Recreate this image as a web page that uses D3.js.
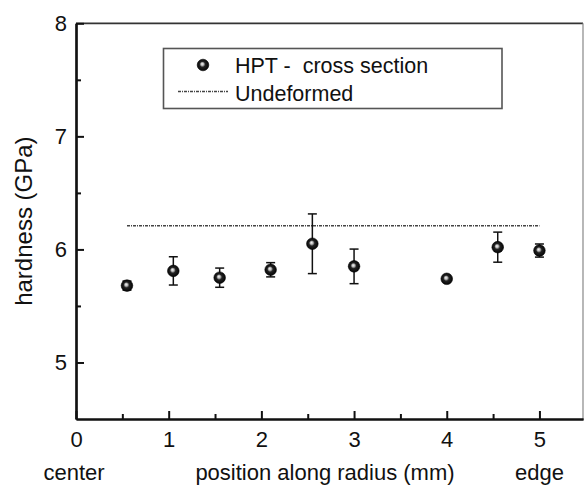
<!DOCTYPE html>
<html>
<head>
<meta charset="utf-8">
<script src="https://cdn.jsdelivr.net/npm/d3@7"></script>
<style>
  html, body { margin: 0; padding: 0; background: #fff; }
  svg { display: block; font-family: "Liberation Sans", Arial, sans-serif; }
</style>
</head>
<body>
<svg id="chart" width="584" height="491"></svg>
<script>
// ---- data ----
const positions = [0.55, 1.05, 1.55, 2.1, 2.55, 3.0, 4.0, 4.55, 5.0];
const hardness  = [5.68, 5.81, 5.75, 5.82, 6.05, 5.85, 5.74, 6.02, 5.99];
const errors    = [0.04, 0.125, 0.085, 0.063, 0.264, 0.153, 0, 0.133, 0.058];
const undeformedValue = 6.21;
const undeformedRange = [0.55, 5.0];
const xTicks = [0, 1, 2, 3, 4, 5];
const xMinorTicks = [0.5, 1.5, 2.5, 3.5, 4.5];
const yTicks = [5, 6, 7, 8];
const yMinorTicks = [5.5, 6.5, 7.5];
const xDomain = [0, 5.47];
const yDomain = [4.5, 8];
const seriesNames = ["HPT -  cross section", "Undeformed"];
const xTitle = "position along radius (mm)";
const yTitle = "hardness (GPa)";
const xLeftNote = "center";
const xRightNote = "edge";

// ---- layout ----
const svg = d3.select("#chart");
const L = 76, R = 583, T = 23.3, B = 419;
const x = d3.scaleLinear().domain(xDomain).range([L, R]);
const y = d3.scaleLinear().domain(yDomain).range([B, T]);

const defs = svg.append("defs");
const grad = defs.append("radialGradient").attr("id", "ball")
  .attr("cx", "50%").attr("cy", "50%").attr("r", "55%")
  .attr("fx", "42%").attr("fy", "40%");
grad.append("stop").attr("offset", "0%").attr("stop-color", "#f4f4f4");
grad.append("stop").attr("offset", "22%").attr("stop-color", "#bbbbbb");
grad.append("stop").attr("offset", "45%").attr("stop-color", "#222");
grad.append("stop").attr("offset", "100%").attr("stop-color", "#000");

// frame (top/right)
svg.append("line").attr("x1", L).attr("x2", R).attr("y1", T).attr("y2", T)
  .attr("stroke", "#333").attr("stroke-width", 1.8);
svg.append("line").attr("x1", R).attr("x2", R).attr("y1", T).attr("y2", B)
  .attr("stroke", "#888").attr("stroke-width", 1.2);

// axes
const fontSize = 22;
const xAxis = svg.append("g").attr("transform", `translate(0,${B})`)
  .call(d3.axisBottom(x).tickValues(xTicks).tickFormat(d3.format("d"))
    .tickSize(-8).tickSizeOuter(0).tickPadding(12));
const xMinor = svg.append("g").attr("transform", `translate(0,${B})`)
  .call(d3.axisBottom(x).tickValues(xMinorTicks).tickFormat("")
    .tickSize(-5).tickSizeOuter(0));
const yAxis = svg.append("g").attr("transform", `translate(${L},0)`)
  .call(d3.axisLeft(y).tickValues(yTicks).tickFormat(d3.format("d"))
    .tickSize(-8).tickSizeOuter(0).tickPadding(9));
const yMinor = svg.append("g").attr("transform", `translate(${L},0)`)
  .call(d3.axisLeft(y).tickValues(yMinorTicks).tickFormat("")
    .tickSize(-5).tickSizeOuter(0));
[xAxis, xMinor, yAxis, yMinor].forEach(g => {
  g.select(".domain").attr("stroke", "#111").attr("stroke-width", 2.2);
  g.selectAll(".tick line").attr("stroke", "#111").attr("stroke-width", 2);
  g.selectAll("text").attr("font-size", fontSize).attr("fill", "#111")
    .attr("font-family", "Liberation Sans, Arial, sans-serif");
});

// axis titles
const yc = (T + B) / 2;
svg.append("text").attr("x", 24).attr("y", yc)
  .attr("transform", `rotate(-90,24,${yc})`)
  .attr("text-anchor", "middle").attr("dominant-baseline", "central")
  .attr("font-size", 24).attr("fill", "#111").text(yTitle);
svg.append("text").attr("x", 325).attr("y", 480)
  .attr("text-anchor", "middle").attr("font-size", fontSize).attr("fill", "#111").text(xTitle);
svg.append("text").attr("x", x(0) - 2).attr("y", 480)
  .attr("text-anchor", "middle").attr("font-size", fontSize).attr("fill", "#111").text(xLeftNote);
svg.append("text").attr("x", x(5)).attr("y", 480)
  .attr("text-anchor", "middle").attr("font-size", fontSize).attr("fill", "#111").text(xRightNote);

// undeformed line
svg.append("line")
  .attr("x1", x(undeformedRange[0])).attr("x2", x(undeformedRange[1]))
  .attr("y1", y(undeformedValue)).attr("y2", y(undeformedValue))
  .attr("stroke", "#444").attr("stroke-width", 1.5).attr("stroke-dasharray", "3,1,1,1");

// data
const data = positions.map((p, i) => ({ p, h: hardness[i], e: errors[i] }));
const eb = svg.append("g");
data.filter(d => d.e > 0).forEach(d => {
  const cx = x(d.p), y1 = y(d.h + d.e), y2 = y(d.h - d.e);
  eb.append("line").attr("x1", cx).attr("x2", cx).attr("y1", y1).attr("y2", y2)
    .attr("stroke", "#111").attr("stroke-width", 1.5);
  [y1, y2].forEach(yy => eb.append("line").attr("x1", cx - 4.5).attr("x2", cx + 4.5)
    .attr("y1", yy).attr("y2", yy).attr("stroke", "#111").attr("stroke-width", 1.5));
});
svg.append("g").selectAll("circle").data(data).join("circle")
  .attr("cx", d => x(d.p)).attr("cy", d => y(d.h)).attr("r", 5.8)
  .attr("fill", "url(#ball)").attr("stroke", "#000").attr("stroke-width", 0.6);

// legend
const lg = svg.append("g");
lg.append("rect").attr("x", 163.5).attr("y", 48.5).attr("width", 338.5).attr("height", 60)
  .attr("fill", "#fff").attr("stroke", "#555").attr("stroke-width", 1.6);
lg.append("circle").attr("cx", 203).attr("cy", 65).attr("r", 5.8)
  .attr("fill", "url(#ball)").attr("stroke", "#000").attr("stroke-width", 0.6);
lg.append("line").attr("x1", 178).attr("x2", 228).attr("y1", 91.5).attr("y2", 91.5)
  .attr("stroke", "#444").attr("stroke-width", 1.5).attr("stroke-dasharray", "3,1,1,1");
lg.append("text").attr("x", 235).attr("y", 72.5).attr("font-size", 21.5).attr("fill", "#111")
  .style("white-space", "pre").text(seriesNames[0]);
lg.append("text").attr("x", 235).attr("y", 101).attr("font-size", 21.5).attr("fill", "#111")
  .text(seriesNames[1]);
</script>
</body>
</html>
